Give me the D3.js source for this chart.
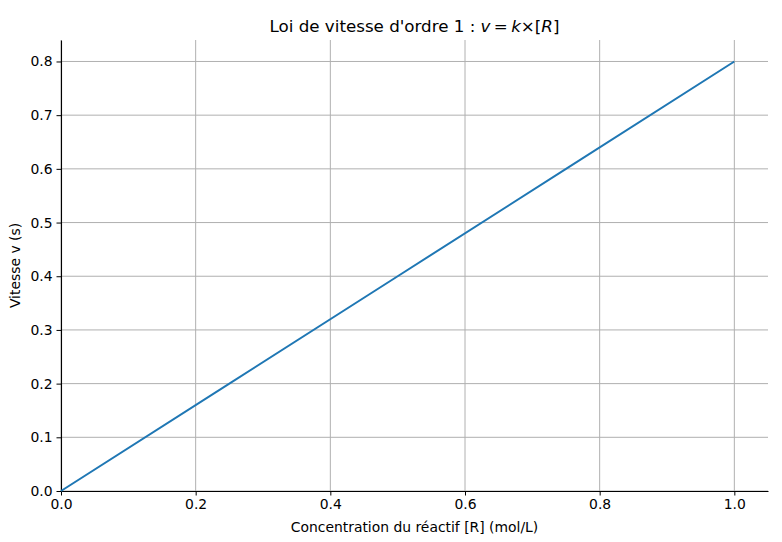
<!DOCTYPE html>
<html>
<head>
<meta charset="utf-8">
<script src="https://cdn.jsdelivr.net/npm/d3@7"></script>
<style>
  body { margin: 0; background: #fff; }
  text { font-family: "DejaVu Sans", sans-serif; }
</style>
</head>
<body>
<div id="chart"></div>
<script>
// Data
const concentration = [0, 0.25, 0.5, 0.75, 1.0];
const vitesse = [0, 0.2, 0.4, 0.6, 0.8];
const xTicks = [0, 0.2, 0.4, 0.6, 0.8, 1.0];
const yTicks = [0, 0.1, 0.2, 0.3, 0.4, 0.5, 0.6, 0.7, 0.8];

const width = 782;
const height = 542;
const margin = { left: 61, right: 14, top: 40, bottom: 51 };

const svg = d3.select("#chart")
  .append("svg")
  .attr("width", width)
  .attr("height", height);

const xScale = d3.scaleLinear()
  .domain([0, 1.05])
  .range([margin.left, width - margin.right]);

const yScale = d3.scaleLinear()
  .domain([0, 0.84])
  .range([height - margin.bottom, margin.top]);

// grid
svg.append("g")
  .selectAll("line")
  .data(xTicks)
  .join("line")
  .attr("x1", d => xScale(d)).attr("x2", d => xScale(d))
  .attr("y1", margin.top).attr("y2", height - margin.bottom)
  .attr("stroke", "#b0b0b0").attr("stroke-width", 1);

svg.append("g")
  .selectAll("line")
  .data(yTicks)
  .join("line")
  .attr("x1", margin.left).attr("x2", width - margin.right)
  .attr("y1", d => yScale(d)).attr("y2", d => yScale(d))
  .attr("stroke", "#b0b0b0").attr("stroke-width", 1);

// axes
const xAxis = svg.append("g")
  .attr("transform", `translate(0,${height - margin.bottom})`)
  .call(d3.axisBottom(xScale).tickValues(xTicks).tickFormat(d3.format(".1f"))
    .tickSize(4.5).tickSizeOuter(0).tickPadding(4));

const yAxis = svg.append("g")
  .attr("transform", `translate(${margin.left},0)`)
  .call(d3.axisLeft(yScale).tickValues(yTicks).tickFormat(d3.format(".1f"))
    .tickSize(4.5).tickSizeOuter(0).tickPadding(4));

[xAxis, yAxis].forEach(g => {
  g.attr("font-size", "13.9px").attr("font-family", "DejaVu Sans");
  g.selectAll("text").attr("fill", "#000");
  g.selectAll(".tick line").attr("stroke", "#000").attr("stroke-width", 1);
  g.select(".domain").attr("stroke", "#000").attr("stroke-width", 1.1);
});

// line
const line = d3.line()
  .x((d, i) => xScale(concentration[i]))
  .y(d => yScale(d));

svg.append("path")
  .datum(vitesse)
  .attr("d", line)
  .attr("fill", "none")
  .attr("stroke", "#1f77b4")
  .attr("stroke-width", 2);

// title
const title = svg.append("text")
  .attr("x", (margin.left + width - margin.right) / 2)
  .attr("y", 32)
  .attr("text-anchor", "middle")
  .attr("font-size", "16.7px");
title.append("tspan").text("Loi de vitesse d'ordre 1 : ");
title.append("tspan").attr("font-style", "italic").text("v");
title.append("tspan").text("\u2009=\u2009");
title.append("tspan").attr("font-style", "italic").text("k");
title.append("tspan").text("×[");
title.append("tspan").attr("font-style", "italic").text("R");
title.append("tspan").text("]");

// axis labels
svg.append("text")
  .attr("x", (margin.left + width - margin.right) / 2)
  .attr("y", 532)
  .attr("text-anchor", "middle")
  .attr("font-size", "13.9px")
  .text("Concentration du réactif [R] (mol/L)");

svg.append("text")
  .attr("transform", `translate(20,${(margin.top + height - margin.bottom) / 2}) rotate(-90)`)
  .attr("text-anchor", "middle")
  .attr("font-size", "13.9px")
  .text("Vitesse v (s)");
</script>
</body>
</html>
